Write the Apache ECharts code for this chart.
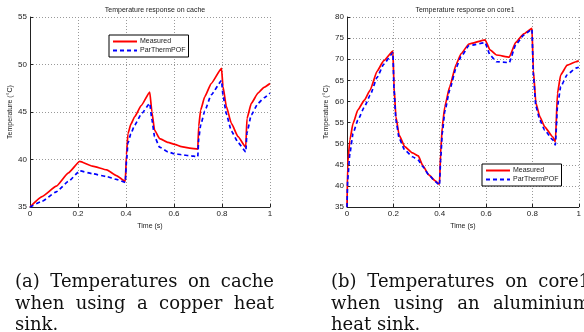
<!DOCTYPE html>
<html>
<head>
<meta charset="utf-8">
<script src="https://cdn.jsdelivr.net/npm/echarts@6/dist/echarts.min.js"></script>
<style>
html,body{margin:0;padding:0;background:#fff;}
#chart{width:584px;height:332px;}
</style>
</head>
<body>
<div id="chart"></div>
<script>
// ---------- data ----------
const titleA = 'Temperature response on cache';
const titleB = 'Temperature response on core1';
const seriesNames = ['Measured', 'ParThermPOF'];
const xTicks = [0, 0.2, 0.4, 0.6, 0.8, 1];

const timeA = [0, 0.05, 0.11, 0.16, 0.207, 0.26, 0.32, 0.36, 0.397, 0.402, 0.408, 0.42, 0.436, 0.464, 0.499,
  0.508, 0.519, 0.54, 0.575, 0.603, 0.631, 0.665, 0.699, 0.703, 0.711, 0.728, 0.755, 0.798,
  0.804, 0.818, 0.839, 0.867, 0.899, 0.904, 0.922, 0.95, 0.975, 1.0];
const measuredA = [35.0, 36.1, 37.2, 38.6, 39.8, 39.3, 38.9, 38.3, 37.7, 40.5, 42.7, 43.7, 44.5, 45.7, 47.1,
  45.0, 43.1, 42.2, 41.8, 41.6, 41.35, 41.2, 41.1, 43.5, 45.2, 46.6, 48.0, 49.6,
  47.7, 45.6, 43.8, 42.4, 41.3, 44.3, 45.9, 47.0, 47.6, 48.0];
const modelA = [35.0, 35.6, 36.6, 37.7, 38.8, 38.5, 38.2, 37.9, 37.6, 39.8, 41.7, 42.7, 43.6, 44.8, 45.9,
  44.2, 42.4, 41.3, 40.8, 40.6, 40.5, 40.4, 40.3, 42.2, 43.6, 45.1, 46.8, 48.3,
  46.8, 44.8, 43.0, 41.8, 40.8, 42.8, 44.7, 45.9, 46.5, 47.0];

const timeB = [0, 0.003, 0.0125, 0.026, 0.047, 0.075, 0.1, 0.13, 0.158, 0.198, 0.203, 0.211, 0.225, 0.249,
  0.283, 0.308, 0.325, 0.353, 0.381, 0.399, 0.404, 0.411, 0.422, 0.443, 0.471, 0.492, 0.526, 0.596,
  0.617, 0.645, 0.70, 0.728, 0.7625, 0.798, 0.804, 0.815, 0.832, 0.853, 0.8875, 0.899, 0.908, 0.922,
  0.95, 0.9875, 1.0];
const measuredB = [35.0, 45.3, 50.9, 54.8, 58.0, 60.3, 62.7, 67.2, 69.6, 71.9, 63.5, 56.4, 52.0, 49.3,
  47.8, 47.1, 45.0, 42.6, 41.2, 40.4, 47.7, 54.0, 58.8, 63.5, 68.8, 71.3, 73.6, 74.6,
  72.2, 71.0, 70.5, 74.0, 76.0, 77.3, 67.4, 59.6, 56.4, 54.0, 51.6, 50.4, 61.9, 66.3,
  68.6, 69.4, 69.6];
const modelB = [35.0, 41.5, 47.7, 52.4, 55.6, 58.7, 61.5, 65.7, 68.8, 71.5, 62.7, 55.6, 51.3, 48.5,
  46.9, 46.1, 44.7, 42.6, 41.0, 40.2, 46.1, 52.4, 57.6, 62.7, 68.0, 70.6, 73.2, 73.9,
  71.0, 69.4, 69.2, 73.4, 75.7, 77.1, 66.3, 58.8, 55.6, 53.2, 50.9, 49.7, 58.8, 63.5,
  66.3, 67.9, 68.1];

const captionA = ['(a) Temperatures on cache', 'when using a copper heat', 'sink.'];
const captionB = ['(b) Temperatures on core1', 'when using an aluminium', 'heat sink.'];

// ---------- chart ----------
const sans = 'Liberation Sans';
const serif = 'DejaVu Serif';
const zip = (xs, ys) => xs.map((x, i) => [x, ys[i]]);

function xAxis(gi) {
  return {
    type: 'value', gridIndex: gi, min: 0, max: 1, interval: 0.2,
    name: 'Time (s)', nameLocation: 'middle', nameGap: 13,
    nameTextStyle: { fontFamily: sans, fontSize: 7, color: '#222' },
    axisLine: { show: true, onZero: false, lineStyle: { color: '#222', width: 1 } },
    axisTick: { show: true, inside: true, length: 3, lineStyle: { color: '#222' } },
    axisLabel: { fontFamily: sans, fontSize: 8, color: '#222', margin: 3,
      formatter: v => (v === 0 || v === 1) ? String(v) : v.toFixed(1) },
    splitLine: { show: true, lineStyle: { color: '#999', type: [1, 2], width: 1 } }
  };
}
function yAxis(gi, min, max, gap) {
  return {
    type: 'value', gridIndex: gi, min: min, max: max, interval: 5,
    name: 'Temperature (°C)', nameLocation: 'middle', nameGap: gap, nameRotate: 90,
    nameTextStyle: { fontFamily: sans, fontSize: 7, color: '#222' },
    axisLine: { show: true, lineStyle: { color: '#222', width: 1 } },
    axisTick: { show: true, inside: true, length: 3, lineStyle: { color: '#222' } },
    axisLabel: { fontFamily: sans, fontSize: 8, color: '#222', margin: 3 },
    splitLine: { show: true, lineStyle: { color: '#999', type: [1, 2], width: 1 } }
  };
}
function lineSeries(name, idx, data, dashed) {
  const c = dashed ? '#0000ff' : '#ff0000';
  return {
    type: 'line', name: name, xAxisIndex: idx, yAxisIndex: idx, data: data,
    symbol: 'none', smooth: 0.15, smoothMonotone: 'x', animation: false,
    lineStyle: { color: c, width: 1.7, type: dashed ? [4, 3] : 'solid' },
    itemStyle: { color: c }
  };
}
function legend(left, top) {
  return {
    orient: 'vertical', left: left, top: top, data: seriesNames,
    itemWidth: 24, itemHeight: 8, itemGap: 2, padding: [3, 3, 3, 3],
    borderColor: '#000', borderWidth: 1, backgroundColor: '#fff',
    itemStyle: { color: 'rgba(0,0,0,0)', borderWidth: 0, opacity: 0 },
    textStyle: { fontFamily: sans, fontSize: 7, color: '#222', padding: [0, 0, 0, -2] },
    selectedMode: false
  };
}

// caption words, justified
const canvas = document.createElement('canvas');
const ctx = canvas.getContext('2d');
const capSize = 18;
ctx.font = capSize + 'px "' + serif + '"';
function captionTexts(lines, x0, width, baselines) {
  const els = [];
  lines.forEach((line, li) => {
    const words = line.split(' ');
    const last = li === lines.length - 1;
    const ws = words.map(w => ctx.measureText(w).width);
    const total = ws.reduce((a, b) => a + b, 0);
    const space = (last || words.length < 2) ? ctx.measureText(' ').width : (width - total) / (words.length - 1);
    let x = x0;
    words.forEach((w, i) => {
      els.push({ type: 'text', left: x, top: baselines[li] - 15, silent: true,
        style: { text: w, fontFamily: serif, fontSize: capSize, fill: '#111' } });
      x += ws[i] + space;
    });
  });
  return els;
}

const chart = echarts.init(document.getElementById('chart'), null, { renderer: 'canvas' });
chart.setOption({
  animation: false,
  backgroundColor: '#fff',
  title: [
    { text: titleA, left: 150, top: 2, textAlign: 'center',
      textStyle: { fontFamily: sans, fontSize: 7, fontWeight: 'normal', color: '#222' } },
    { text: titleB, left: 460, top: 2, textAlign: 'center',
      textStyle: { fontFamily: sans, fontSize: 7, fontWeight: 'normal', color: '#222' } }
  ],
  grid: [
    { left: 30, top: 17, width: 240, height: 190 },
    { left: 347, top: 17, width: 240, height: 190 }
  ],
  xAxis: [xAxis(0), xAxis(1)],
  yAxis: [yAxis(0, 35, 55, 16), yAxis(1, 35, 80, 17)],
  legend: [legend(109, 35), legend(482, 164)],
  series: [
    lineSeries(seriesNames[0], 0, zip(timeA, measuredA), false),
    lineSeries(seriesNames[1], 0, zip(timeA, modelA), true),
    lineSeries(seriesNames[0], 1, zip(timeB, measuredB), false),
    lineSeries(seriesNames[1], 1, zip(timeB, modelB), true)
  ],
  graphic: [].concat(
    captionTexts(captionA, 15, 259, [288, 310, 331]),
    captionTexts(captionB, 331, 259, [288, 310, 331])
  )
});
</script>
</body>
</html>
